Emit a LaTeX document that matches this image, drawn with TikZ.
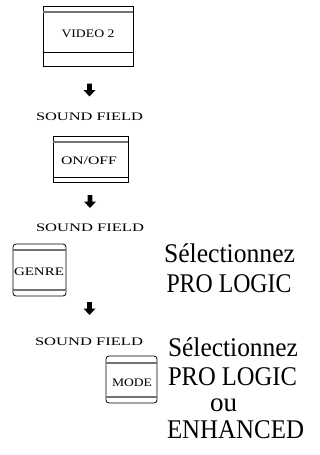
\documentclass[tikz,border=0pt]{standalone}
\usepackage{graphicx}
\usepackage{fontspec}
\setmainfont{Liberation Serif}
\newcommand\fitw[2]{\setbox0\hbox{#2}\pgfmathsetmacro\myr{#1/\the\wd0}\scalebox{\myr}[1]{#2}}
\tikzset{
  small/.style={font=\fontsize{11.5}{13}\selectfont, inner sep=0pt, anchor=base},
  big/.style={font=\fontsize{27}{30}\selectfont, inner sep=0pt, anchor=base},
  keybox/.style={draw, line width=0.8pt},
  band/.style={line width=1.3pt, black!55},
  bandk/.style={line width=0.8pt, black},
  pics/downarrow/.style={code={\fill (-2.3,0) -- (2.3,0) -- (2.3,6.5) -- (6,6.5) -- (0,13) -- (-6,6.5) -- (-2.3,6.5) -- cycle;}}
}
\begin{document}
\begin{tikzpicture}[x=1pt,y=-1pt]
\useasboundingbox (0,0) rectangle (320,455);
% VIDEO 2 key
\draw[keybox] (43,6) rectangle (133,66);
\draw[band] (43.4,12) -- (132.6,12);
\draw[bandk] (43,52) -- (133,52);
\node[small] (video) at (88,37.7) {\fitw{53}{VIDEO 2}};
\pic at (89.5,83.5) {downarrow};
\node[small] (sf1) at (89.5,120.7) {\fitw{107}{SOUND FIELD}};
% ON/OFF key
\draw[keybox] (53,136) rectangle (128,182);
\draw[band] (53.4,142) -- (127.6,142);
\draw[bandk] (53,177) -- (128,177);
\node[small] (onoff) at (89,164) {\fitw{56}{ON/OFF}};
\pic at (90,195) {downarrow};
\node[small] (sf2) at (90,231.7) {\fitw{108}{SOUND FIELD}};
% GENRE key
\draw[keybox, rounded corners=3pt] (13,244) rectangle (66,296);
\draw[band] (13.4,250) -- (65.6,250);
\draw[band] (13.4,290) -- (65.6,290);
\node[small] (genre) at (39,275.7) {\fitw{50}{GENRE}};
\node[big] (sel1) at (229.5,262) {\fitw{131}{Sélectionnez}};
\node[big] (pl1) at (229,292) {\fitw{125}{PRO LOGIC}};
\pic at (89.5,302) {downarrow};
\node[small] (sf3) at (89,345) {\fitw{108}{SOUND FIELD}};
% MODE key
\draw[keybox, rounded corners=3pt] (106,356) rectangle (157,403);
\draw[band] (106.4,363) -- (156.6,363);
\draw[band] (106.4,397) -- (156.6,397);
\node[small] (mode) at (132,386) {\fitw{40}{MODE}};
\node[big] (sel2) at (233,356) {\fitw{130}{Sélectionnez}};
\node[big] (pl2) at (232.5,385) {\fitw{129}{PRO LOGIC}};
\node[big] (ou) at (223.5,411.7) {\fitw{27}{ou}};
\node[big] (enh) at (235.5,438) {\fitw{137}{ENHANCED}};
\end{tikzpicture}
\end{document}
